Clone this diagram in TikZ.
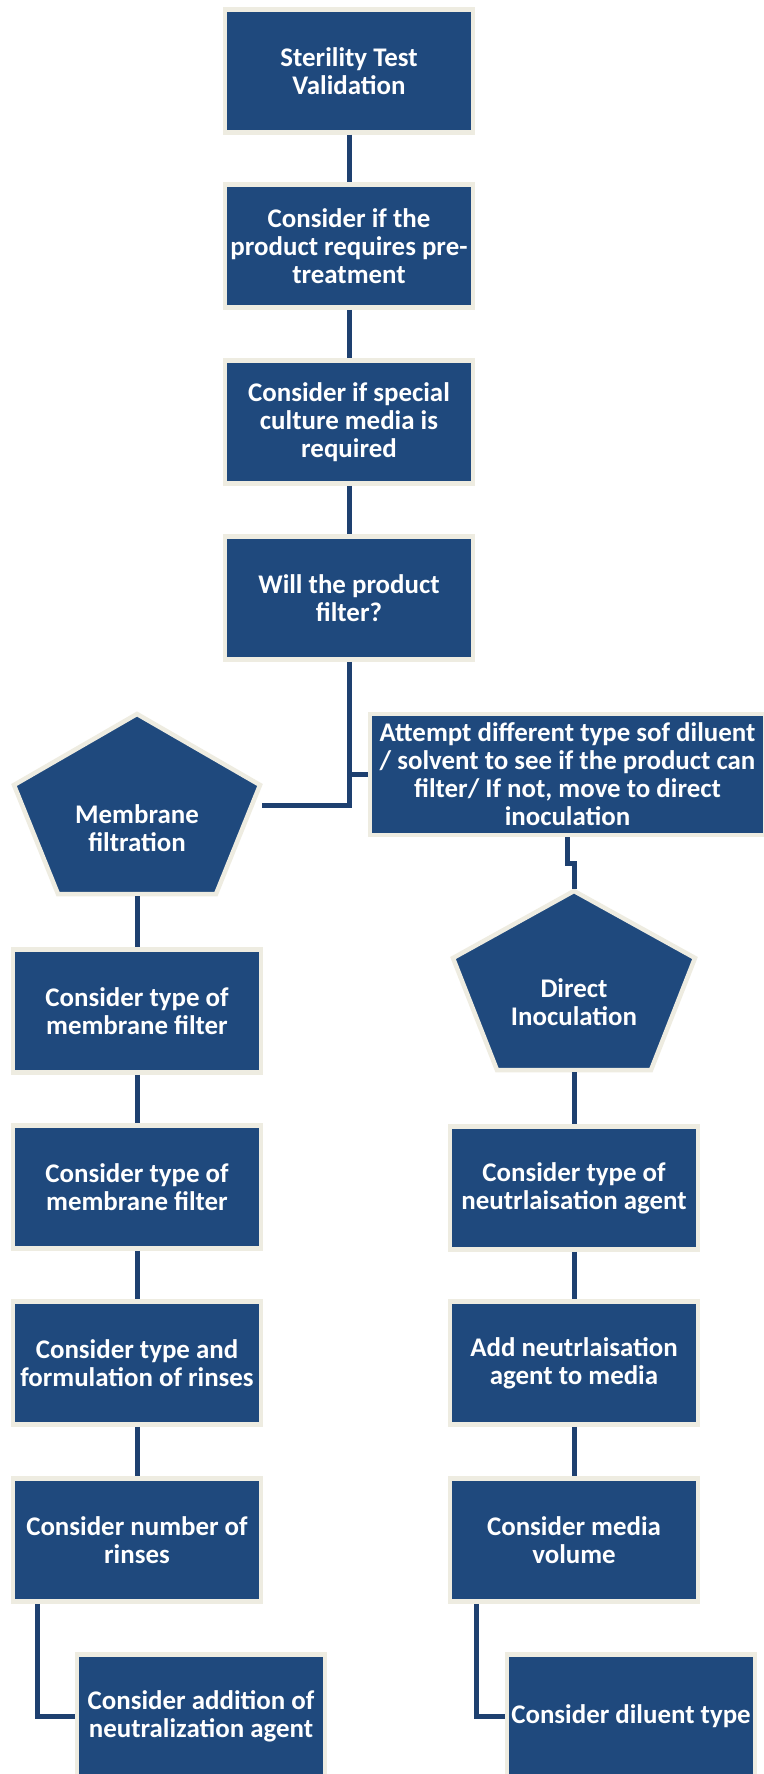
\documentclass[tikz,border=0pt]{standalone}
\usepackage{fontspec}
\setmainfont{Carlito}
\definecolor{boxblue}{RGB}{31,73,125}
\definecolor{boxedge}{RGB}{238,236,225}
\definecolor{linkblue}{RGB}{30,64,112}
\begin{document}
\begin{tikzpicture}[x=1pt,y=-1pt,
  stepbox/.style={draw=boxedge, line width=4.5pt, fill=boxblue, minimum width=248pt,
    minimum height=123pt, text=white, font=\bfseries\fontsize{26.9}{28}\selectfont,
    align=center, inner sep=0pt},
  ptext/.style={text=white, font=\bfseries\fontsize{26.9}{28}\selectfont, align=center, inner sep=0pt},
  penta/.style={draw=boxedge, line width=4.5pt, fill=boxblue, line join=miter},
  link/.style={draw=linkblue, line width=5pt}]
\useasboundingbox (0,0) rectangle (763,1774);
\fill[white] (0,0) rectangle (763,1774);

% top column
\node[stepbox] (b1) at (349,71) {Sterility Test\\Validation};
\node[stepbox] (b2) at (349,246) {Consider if the\\product requires pre-\\treatment};
\node[stepbox] (b3) at (349,422) {Consider if special\\culture media is\\required};
\node[stepbox] (b4) at (349,598) {Will the product\\filter?};
\node[stepbox, minimum width=395pt, minimum height=121pt] (at) at (567.5,774.5)
  {Attempt different type sof diluent\\/ solvent to see if the product can\\filter/ If not, move to direct\\inoculation};

% pentagons
\draw[penta] (137,714) -- (260,785) -- (216,894) -- (58,894) -- (14,785) -- cycle;
\node[ptext] (mf) at (137,828) {Membrane\\filtration};
\coordinate (mfR) at (262,805);
\coordinate (mfB) at (137,896);

\draw[penta] (574,891) -- (695,958) -- (651,1070) -- (497,1070) -- (453,958) -- cycle;
\node[ptext] (di) at (574,1002) {Direct\\Inoculation};
\coordinate (diT) at (574,889);
\coordinate (diB) at (574,1072);

% left column
\node[stepbox] (m1) at (137,1011) {Consider type of\\membrane filter};
\node[stepbox] (m2) at (137,1187) {Consider type of\\membrane filter};
\node[stepbox] (m3) at (137,1363) {Consider type and\\formulation of rinses};
\node[stepbox] (m4) at (137,1540) {Consider number of\\rinses};
\node[stepbox] (m5) at (201,1716) {Consider addition of\\neutralization agent};

% right column
\node[stepbox] (d1) at (574,1188) {Consider type of\\neutrlaisation agent};
\node[stepbox] (d2) at (574,1363) {Add neutrlaisation\\agent to media};
\node[stepbox] (d3) at (574,1540) {Consider media\\volume};
\node[stepbox] (d4) at (631,1716) {Consider diluent type};

% connectors
\draw[link] (b1) -- (b2);
\draw[link] (b2) -- (b3);
\draw[link] (b3) -- (b4);
\draw[link] (b4.south) |- (mfR);
\draw[link] (at.west) -- (b4.south |- at.west);
\draw[link] (at.south) -- ++(0,26) -| (diT);
\draw[link] (mfB) -- (m1);
\draw[link] (m1) -- (m2);
\draw[link] (m2) -- (m3);
\draw[link] (m3) -- (m4);
\draw[link] ([xshift=-100pt]m4.south) |- (m5.west);
\draw[link] (diB) -- (d1);
\draw[link] (d1) -- (d2);
\draw[link] (d2) -- (d3);
\draw[link] ([xshift=-98pt]d3.south) |- (d4.west);
\end{tikzpicture}
\end{document}
